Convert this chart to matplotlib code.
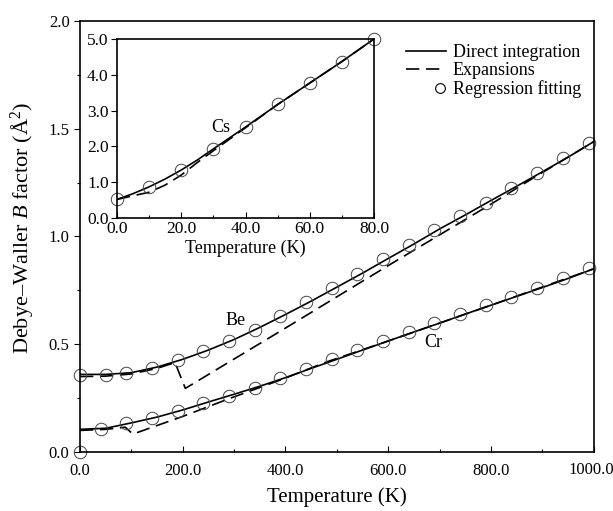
"""
Debye-Waller B factor vs temperature for Be, Cr (main) and Cs (inset).
"""

import numpy as np
import matplotlib

matplotlib.use("Agg")
import matplotlib.pyplot as plt
from matplotlib.lines import Line2D
from matplotlib.legend_handler import HandlerLine2D
from matplotlib.ticker import MultipleLocator, FuncFormatter, FormatStrFormatter

plt.rcParams.update(
    {
        "font.family": ["Liberation Serif", "DejaVu Serif"],
        "mathtext.fontset": "custom",
        "mathtext.rm": "Liberation Serif",
        "mathtext.it": "Liberation Serif:italic",
        "font.size": 12,
    }
)

# Be
be_t = [0, 50, 100, 150, 200, 250, 300, 350, 400, 450, 500, 550, 600, 650, 700, 750,
        800, 850, 900, 950, 1000]
be_direct = [0.36, 0.36, 0.368, 0.394, 0.43, 0.473, 0.522, 0.578, 0.638, 0.70, 0.765,
             0.83, 0.898, 0.965, 1.035, 1.10, 1.167, 1.233, 1.30, 1.368, 1.44]
be_exp_t = [0, 50, 100, 150, 185, 205, 400, 600, 800, 880, 950, 1000]
be_exp = [0.35, 0.352, 0.362, 0.388, 0.415, 0.295, 0.575, 0.865, 1.15, 1.268, 1.368, 1.44]
be_fit_t = [0, 50, 90, 140, 190, 240, 290, 340, 390, 440, 490, 540, 590, 640, 690, 740,
            790, 840, 890, 940, 990]
be_fit = [0.357, 0.357, 0.365, 0.391, 0.425, 0.467, 0.516, 0.568, 0.633, 0.697, 0.76,
          0.826, 0.894, 0.96, 1.03, 1.094, 1.157, 1.224, 1.293, 1.362, 1.435]

# Cr
cr_t = be_t
cr_direct = [0.105, 0.11, 0.135, 0.162, 0.195, 0.232, 0.268, 0.305, 0.345, 0.388, 0.43,
             0.473, 0.515, 0.557, 0.598, 0.64, 0.681, 0.722, 0.763, 0.805, 0.85]
cr_exp_t = [0, 50, 88, 103, 200, 292, 390, 480, 600, 800, 1000]
cr_exp = [0.10, 0.105, 0.115, 0.083, 0.165, 0.249, 0.334, 0.418, 0.515, 0.681, 0.85]
cr_fit_t = [0, 40, 90, 140, 190, 240, 290, 340, 390, 440, 490, 540, 590, 640, 690, 740,
            790, 840, 890, 940, 990]
cr_fit = [0.0, 0.108, 0.133, 0.156, 0.19, 0.226, 0.261, 0.297, 0.345, 0.385, 0.43,
          0.473, 0.517, 0.559, 0.598, 0.64, 0.68, 0.721, 0.762, 0.806, 0.854]

# Cs (inset)
cs_t = [0, 5, 10, 15, 20, 25, 30, 40, 50, 60, 70, 80]
cs_direct = [0.52, 0.68, 0.87, 1.09, 1.34, 1.62, 1.93, 2.54, 3.17, 3.77, 4.37, 5.0]
cs_exp = [0.52, 0.62, 0.72, 0.92, 1.2, 1.55, 1.88, 2.52, 3.17, 3.77, 4.37, 5.0]
cs_fit_t = [0, 10, 20, 30, 40, 50, 60, 70, 80]
cs_fit = [0.52, 0.87, 1.34, 1.93, 2.54, 3.18, 3.77, 4.36, 5.0]

solid_kw = dict(color="black", lw=1.2)
dash_kw = dict(color="black", lw=1.2, dashes=(8, 4))
circ_kw = dict(ls="none", marker="o", ms=9, mfc="none", mec="#444444", mew=0.7)


class HandlerRightMarker(HandlerLine2D):
    # put the single legend marker at the right end of the handle box
    def create_artists(self, legend, orig_handle, xdescent, ydescent, width,
                       height, fontsize, trans):
        artists = super().create_artists(legend, orig_handle, xdescent, ydescent,
                                         width, height, fontsize, trans)
        for a in artists:
            if a.get_marker() not in (None, "None", ""):
                a.set_xdata([width - xdescent - 4])
        return artists


def style_ticks(ax):
    ax.tick_params(axis="x", which="both", direction="in", top=False)
    ax.tick_params(axis="y", which="both", direction="out", right=False)
    ax.tick_params(which="major", length=4, width=0.8)
    ax.tick_params(which="minor", length=2.5, width=0.8)
    for s in ax.spines.values():
        s.set_linewidth(1.2)


fig = plt.figure(figsize=(6.13, 5.11), dpi=100)
ax = fig.add_axes([0.1305, 0.1155, 0.838, 0.8434])

ax.plot(be_t, be_direct, **solid_kw)
ax.plot(be_exp_t, be_exp, **dash_kw)
ax.plot(be_fit_t, be_fit, **circ_kw, clip_on=False)
ax.plot(cr_t, cr_direct, **solid_kw)
ax.plot(cr_exp_t, cr_exp, **dash_kw)
ax.plot(cr_fit_t, cr_fit, **circ_kw, clip_on=False)

ax.set_xlim(0, 1000)
ax.set_ylim(0, 2.0)
ax.xaxis.set_major_locator(MultipleLocator(200))
ax.xaxis.set_minor_locator(MultipleLocator(100))
ax.yaxis.set_major_locator(MultipleLocator(0.5))
ax.yaxis.set_minor_locator(MultipleLocator(0.25))
# the 1000.0 label is drawn separately so it can sit a little left, inside the picture
ax.xaxis.set_major_formatter(FuncFormatter(lambda v, p: "" if v >= 999 else f"{v:.1f}"))
ax.yaxis.set_major_formatter(FormatStrFormatter("%.1f"))
style_ticks(ax)
ax.tick_params(axis="x", pad=8)
ax.text(0.995, -0.0235, "1000.0", transform=ax.transAxes, ha="center", va="top",
        fontsize=12)
ax.set_xlabel("Temperature (K)", fontsize=15, labelpad=6)
ax.set_ylabel("Debye\u2013Waller $B$ factor (\u00c5$^2$)", fontsize=16)
ax.yaxis.set_label_coords(-0.085, 0.52)

ax.text(302, 0.608, "Be", fontsize=13, ha="center", va="center")
ax.text(688, 0.506, "Cr", fontsize=13, ha="center", va="center")

h_direct = Line2D([], [], **solid_kw)
h_exp = Line2D([], [], **dash_kw)
h_fit = Line2D([], [], ls="none", marker="o", ms=7, mfc="none", mec="black", mew=0.8)
ax.legend(
    [h_direct, h_exp, h_fit],
    ["Direct integration", "Expansions", "Regression fitting"],
    handler_map={h_fit: HandlerRightMarker(numpoints=1)},
    loc="upper right",
    bbox_to_anchor=(1.0, 0.975),
    frameon=False,
    fontsize=13,
    handlelength=2.2,
    handletextpad=0.4,
    labelspacing=0.05,
    borderaxespad=0.3,
)

# inset for Cs
ins = fig.add_axes([0.1909, 0.5734, 0.4192, 0.3503])
ins.plot(cs_t, cs_direct, **solid_kw)
ins.plot(cs_t, cs_exp, **dash_kw)
ins.plot(cs_fit_t, cs_fit, **circ_kw, clip_on=False)
ins.set_xlim(0, 80)
ins.set_ylim(0, 5.0)
ins.xaxis.set_major_locator(MultipleLocator(20))
ins.xaxis.set_minor_locator(MultipleLocator(10))
ins.yaxis.set_major_locator(MultipleLocator(1))
ins.xaxis.set_major_formatter(FormatStrFormatter("%.1f"))
ins.yaxis.set_major_formatter(FormatStrFormatter("%.1f"))
style_ticks(ins)
ins.tick_params(labelsize=12.5, pad=2)
ins.set_xlabel("Temperature (K)", fontsize=13, labelpad=2)
ins.text(32.4, 2.53, "Cs", fontsize=13, ha="center", va="center")

fig.savefig("out.png", dpi=100)
